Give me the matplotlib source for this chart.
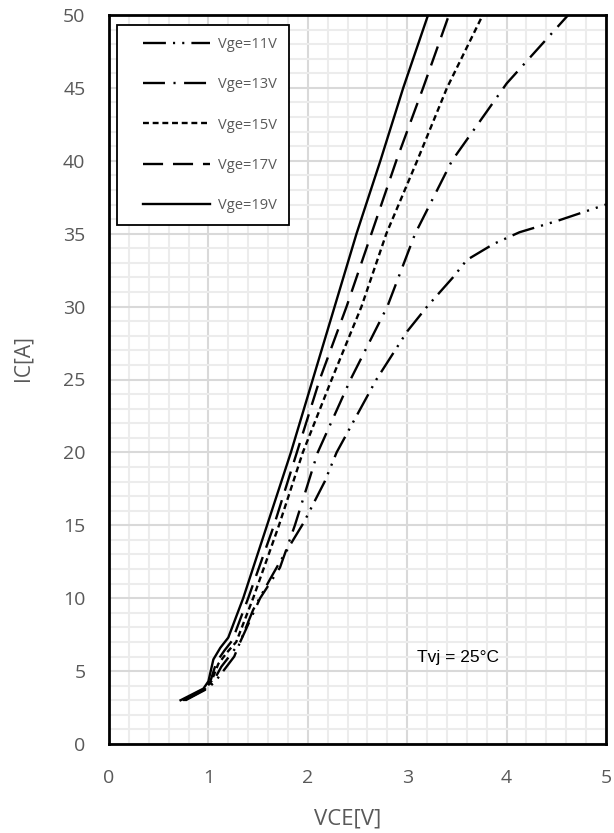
import matplotlib
matplotlib.use("Agg")
from matplotlib import pyplot as plt
from matplotlib.lines import Line2D
from matplotlib.legend_handler import HandlerLine2D
from matplotlib.ticker import MultipleLocator

plt.rcParams['font.family'] = ['Open Sans', 'DejaVu Sans']

# output characteristics IC = f(VCE), Tvj = 25°C
vce_11 = [0.77, 0.99, 1.07, 1.16, 1.26, 1.45, 1.62, 1.72, 1.96, 2.17, 2.29, 2.69, 3.0, 3.2, 3.46, 3.6, 3.87, 4.13, 4.52, 5.0]
ic_11 = [3, 3.8, 4.3, 5.1, 6.0, 9.2, 11.3, 12.5, 15.2, 18, 20, 25, 28.3, 30, 32, 33.2, 34.3, 35.1, 35.9, 37]

vce_13 = [0.76, 0.98, 1.05, 1.13, 1.22, 1.32, 1.52, 1.72, 1.87, 2.10, 2.43, 2.80, 3.08, 3.45, 4.0, 4.62]
ic_13 = [3, 3.8, 4.3, 5.3, 6.1, 7.0, 10, 12.1, 15, 20, 25, 30, 35, 40, 45.3, 50]

vce_15 = [0.75, 0.97, 1.03, 1.10, 1.19, 1.28, 1.45, 1.71, 1.95, 2.24, 2.54, 2.79, 3.10, 3.40, 3.76]
ic_15 = [3, 3.8, 4.3, 5.5, 6.3, 7.0, 10, 15, 20, 25, 30, 35, 40, 45, 50]

vce_17 = [0.74, 0.96, 1.02, 1.08, 1.16, 1.24, 1.40, 1.66, 1.89, 2.12, 2.39, 2.64, 2.89, 3.16, 3.42]
ic_17 = [3, 3.8, 4.3, 5.6, 6.4, 7.1, 10, 15, 20, 25, 30, 35, 40, 45, 50]

vce_19 = [0.72, 0.95, 1.0, 1.05, 1.12, 1.2, 1.35, 1.59, 1.83, 2.05, 2.27, 2.49, 2.73, 2.96, 3.21]
ic_19 = [3, 3.8, 4.3, 5.8, 6.6, 7.3, 10, 15, 20, 25, 30, 35, 40, 45, 50]

labels = ['Vge=11V', 'Vge=13V', 'Vge=15V', 'Vge=17V', 'Vge=19V']

W, H = 614, 833
fig = plt.figure(figsize=(W / 100, H / 100), dpi=100)
ax = fig.add_axes([109 / W, (H - 744) / H, (606 - 109) / W, (744 - 15) / H])

styles = [
    (0, (9.7, 3, 0.9, 3, 0.9, 3)),
    (0, (9.3, 3.6, 0.9, 3.6)),
    (0, (2.5, 1.6)),
    (0, (8.5, 4.2)),
    '-',
]
curves = [(vce_11, ic_11), (vce_13, ic_13), (vce_15, ic_15), (vce_17, ic_17), (vce_19, ic_19)]
for (x, y), ls, lab in zip(curves, styles, labels):
    ax.plot(x, y, color='black', lw=1.7, linestyle=ls, label=lab, zorder=3)

ax.set_xlim(0, 5)
ax.set_ylim(0, 50)
ax.xaxis.set_major_locator(MultipleLocator(1))
ax.xaxis.set_minor_locator(MultipleLocator(0.2))
ax.yaxis.set_major_locator(MultipleLocator(5))
ax.yaxis.set_minor_locator(MultipleLocator(1))
ax.grid(which='minor', color='#ececec', lw=1.5, zorder=0)
ax.grid(which='major', color='#d9d9d9', lw=1.5, zorder=1)
ax.set_axisbelow(True)

ax.tick_params(which='both', length=0, labelsize=14, labelcolor='#595959')
ax.tick_params(axis='y', pad=17)
ax.tick_params(axis='x', pad=18)

for s in ax.spines.values():
    s.set_color('black')
    s.set_linewidth(2)
    s.set_zorder(4)

ax.set_xlabel('VCE[V]', fontsize=16, color='#595959')
ax.xaxis.set_label_coords(0.48, -0.088)
ax.set_ylabel('IC[A]', fontsize=15, color='#595959')
ax.yaxis.set_label_coords(-0.151, 0.53)

ax.text(3.1, 5.9, 'Tvj = 25°C', fontsize=12.5, family='Liberation Sans',
        ha='left', va='center', color='black', zorder=5)

leg = ax.legend(loc='upper left', bbox_to_anchor=(117 / W, (H - 25) / H),
                bbox_transform=fig.transFigure, borderaxespad=0,
                fontsize=10.5, handlelength=5.55, handletextpad=0.5,
                borderpad=0.85, labelspacing=1.72, fancybox=False,
                framealpha=1, edgecolor='black', labelcolor='#595959',
                handler_map={Line2D: HandlerLine2D(xpad=0.9)})
leg.get_frame().set_linewidth(1.3)
leg.set_zorder(6)

fig.savefig('out.png', dpi=100)
